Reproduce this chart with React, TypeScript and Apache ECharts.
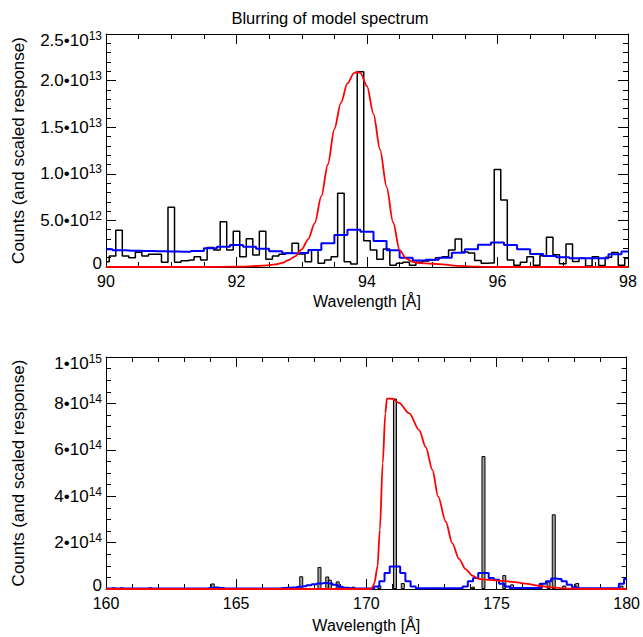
import React, { useEffect, useRef } from "react";
import * as echarts from "echarts";

const FONT = "'Liberation Sans', Arial, Helvetica, sans-serif";
const TITLE = "Blurring of model spectrum";
const X_NAME = "Wavelength [Å]";
const Y_NAME = "Counts (and scaled response)";

// ---------- top panel (counts in units of 1e12) ----------
const TOP_X_MIN = 90;
const TOP_X_MAX = 98;
const TOP_X_LABELS = ["90", "92", "94", "96", "98"];
const TOP_Y_MAX = 25;
const TOP_Y_LABELS = ["0", "5.0•10^12", "1.0•10^13", "1.5•10^13", "2.0•10^13", "2.5•10^13"];

// black histogram: bins of 0.1 Å centred on 90.0 … 98.0
const TOP_BLACK_START = 90.0;
const TOP_BLACK_STEP = 0.1;
const TOP_BLACK = [
  0.57, 1.18, 3.94, 1.18, 1.0, 1.57, 1.18, 1.36, 1.36, 0.5,
  6.4, 0.5, 0.68, 0.75, 1.1, 0.75, 2.1, 1.82, 4.86, 1.82,
  3.83, 1.1, 3.04, 1.29, 3.83, 0.82, 1.18, 1.36, 1.5, 2.54,
  1.39, 0.57, 1.82, 0.4, 0.75, 1.1, 7.9, 0.57, 0.32, 20.95,
  2.82, 1.82, 0.82, 1.93, 0.2, 0.39, 0.5, 0.2, 0.5, 0.64,
  0.75, 1.0, 1.1, 1.82, 3.0, 1.6, 1.5, 0.7, 0.4, 0.42,
  10.45, 7.19, 0.75, 0.2, 0.5, 1.1, 0.2, 1.2, 3.18, 1.32,
  0.35, 2.47, 0.6, 0.95, 0.1, 1.1, 0.15, 1.05, 1.55, 0.2,
  0.95,
];

// blue histogram: bins of 0.2 Å centred on 90.0 … 98.0
const TOP_BLUE_START = 90.0;
const TOP_BLUE_STEP = 0.2;
const TOP_BLUE = [
  1.9, 1.8, 1.75, 1.72, 1.7, 1.66, 1.64, 1.72, 2.0, 2.18,
  2.36, 2.18, 1.97, 1.68, 1.47, 1.5, 1.82, 2.54, 3.43, 4.0,
  3.79, 2.8, 1.8, 1.0, 0.7, 0.78, 1.0, 1.52, 1.9, 2.38,
  2.64, 2.36, 1.9, 1.39, 1.18, 1.05, 0.95, 0.95, 0.95, 1.38,
  1.66,
];

// red model curve
const TOP_RED_X = [
  90.0, 91.5, 92.0, 92.2, 92.4, 92.6, 92.7, 92.8, 92.9, 93.0,
  93.1, 93.2, 93.3, 93.4, 93.5, 93.6, 93.7, 93.8, 93.85, 93.9,
  94.0, 94.1, 94.2, 94.3, 94.4, 94.5, 94.6, 94.7, 94.8, 95.0,
  95.2, 95.4, 95.6, 95.8, 96.0, 98.0,
];
const TOP_RED_Y = [
  0, 0, 0.03, 0.07, 0.14, 0.28, 0.45, 0.75, 1.15, 1.9,
  3.0, 4.7, 7.6, 11.0, 14.8, 17.6, 19.7, 20.8, 20.95, 20.8,
  19.4, 16.4, 12.6, 8.6, 4.8, 1.8, 0.9, 0.55, 0.42, 0.35,
  0.25, 0.12, 0.05, 0.02, 0, 0,
];

// ---------- bottom panel (counts in units of 1e14) ----------
const BOT_X_MIN = 160;
const BOT_X_MAX = 180;
const BOT_X_LABELS = ["160", "165", "170", "175", "180"];
const BOT_Y_MAX = 10;
const BOT_Y_LABELS = ["0", "2•10^14", "4•10^14", "6•10^14", "8•10^14", "1•10^15"];

const BOT_BLACK_X = [
  160.3, 160.6, 161.7, 164.1, 167.5, 168.2, 168.5, 168.6, 168.9, 169.5,
  170.5, 171.1, 171.4, 172.8, 173.0, 174.1, 174.5, 175.3, 175.6, 176.7,
  177.0, 177.2, 177.6, 178.1, 179.8,
];
const BOT_BLACK_Y = [
  0.07, 0.07, 0.07, 0.24, 0.55, 0.95, 0.54, 0.4, 0.33, 0.1,
  0.15, 8.21, 0.26, 0.05, 0.05, 0.1, 5.73, 0.6, 0.2, 0.26,
  0.33, 3.22, 0.15, 0.26, 0.15,
];

const BOT_BLUE_X = [
  160.0, 163.8, 164.0, 164.2, 164.4, 164.6, 166.6, 166.8, 167.0, 167.2,
  167.4, 167.6, 167.8, 168.0, 168.2, 168.4, 168.6, 168.8, 169.0, 169.2,
  169.4, 169.6, 170.2, 170.4, 170.6, 170.8, 171.0, 171.2, 171.4, 171.6,
  171.8, 172.0, 173.6, 173.8, 174.0, 174.2, 174.4, 174.6, 174.8, 175.0,
  175.2, 175.4, 175.6, 176.6, 176.8, 177.0, 177.2, 177.4, 177.6, 177.8,
  178.0, 178.2, 179.6, 179.8, 180.0,
];
const BOT_BLUE_Y = [
  0.02, 0.02, 0.04, 0.06, 0.04, 0.02, 0.02, 0.04, 0.05, 0.07,
  0.1, 0.12, 0.16, 0.2, 0.24, 0.26, 0.24, 0.18, 0.1, 0.05,
  0.03, 0.02, 0.02, 0.11, 0.33, 0.69, 0.97, 0.97, 0.69, 0.33,
  0.11, 0.03, 0.03, 0.11, 0.33, 0.47, 0.69, 0.69, 0.47, 0.4,
  0.23, 0.11, 0.04, 0.04, 0.23, 0.33, 0.45, 0.43, 0.33, 0.18,
  0.08, 0.03, 0.03, 0.23, 0.43,
];

const BOT_RED_X = [
  160.0, 170.0, 170.18, 170.25, 170.31, 170.43, 170.52, 170.63, 170.73, 170.79,
  171.0, 171.26, 171.65, 172.03, 172.28, 172.54, 172.76, 173.05, 173.3, 173.56,
  173.81, 174.07, 174.32, 174.58, 175.09, 175.6, 176.11, 176.62, 177.13, 177.64,
  178.66, 180.0,
];
const BOT_RED_Y = [
  0, 0, 0, 0.1, 0.26, 0.97, 2.55, 5.42, 7.57, 8.21,
  8.2, 8.02, 7.57, 6.85, 6.13, 5.13, 3.98, 2.91, 1.98, 1.3,
  0.86, 0.58, 0.44, 0.4, 0.36, 0.31, 0.23, 0.14, 0.07, 0.02,
  0, 0,
];

const BLACK = "#000000";
const BLUE = "#0000ff";
const RED = "#ff0000";

function binned(start: number, step: number, vals: number[]) {
  return vals.map((v, i) => [Math.round((start + i * step) * 1000) / 1000, v]);
}
function zipXY(xs: number[], ys: number[]) {
  return xs.map((x, i) => [x, ys[i]]);
}

const rich = {
  a: { fontSize: 17, fontFamily: FONT, color: BLACK, lineHeight: 19 },
  s: { fontSize: 12, fontFamily: FONT, color: BLACK, lineHeight: 12, padding: [0, 0, 9, 0] },
  aT: { fontSize: 17, fontFamily: FONT, color: BLACK, lineHeight: 19, padding: [12, 0, 0, 0] },
  sT: { fontSize: 12, fontFamily: FONT, color: BLACK, lineHeight: 12, padding: [12, 0, 9, 0] },
  z: { fontSize: 17, fontFamily: FONT, color: BLACK, lineHeight: 19, padding: [0, 0, 8, 0] },
};

function yLabel(labels: string[], step: number) {
  return (v: number) => {
    const i = Math.round(v / step);
    const s = labels[i];
    if (s === undefined) return "";
    const last = i === labels.length - 1;
    if (s.indexOf("^") >= 0) {
      const [m, e] = s.split("^");
      return last ? `{aT|${m}}{sT|${e}}` : `{a|${m}}{s|${e}}`;
    }
    return i === 0 ? `{z|${s}}` : `{a|${s}}`;
  };
}
function xLabel(labels: string[], min: number, step: number) {
  return (v: number) => {
    const i = Math.round((v - min) / step);
    return labels[i] ?? "";
  };
}

const axisLineStyle = { color: BLACK, width: 1 };

function makeXAxes(grid: number, min: number, max: number, interval: number, minorSplit: number, labels: string[], margin: number, nameGap: number) {
  const common = {
    type: "value",
    gridIndex: grid,
    min,
    max,
    interval,
    axisLine: { show: true, onZero: false, lineStyle: axisLineStyle },
    axisTick: { show: true, inside: true, length: 10, lineStyle: axisLineStyle },
    minorTick: { show: true, splitNumber: minorSplit, length: 5, lineStyle: axisLineStyle },
    splitLine: { show: false },
    minorSplitLine: { show: false },
  };
  return [
    {
      ...common,
      position: "bottom",
      axisLabel: {
        show: true,
        margin,
        fontSize: 16,
        fontFamily: FONT,
        color: BLACK,
        showMinLabel: true,
        showMaxLabel: true,
        formatter: xLabel(labels, min, interval),
      },
      name: X_NAME,
      nameLocation: "middle",
      nameGap,
      nameTextStyle: { fontSize: 16, fontFamily: FONT, color: BLACK },
    },
    { ...common, position: "top", axisLabel: { show: false } },
  ];
}

function makeYAxes(grid: number, max: number, interval: number, minorSplit: number, labels: string[]) {
  const common = {
    type: "value",
    gridIndex: grid,
    min: 0,
    max,
    interval,
    axisLine: { show: true, onZero: false, lineStyle: axisLineStyle },
    axisTick: { show: true, inside: true, length: 10, lineStyle: axisLineStyle },
    minorTick: { show: true, splitNumber: minorSplit, length: 5, lineStyle: axisLineStyle },
    splitLine: { show: false },
    minorSplitLine: { show: false },
  };
  return [
    {
      ...common,
      position: "left",
      axisLabel: {
        show: true,
        margin: 4,
        showMinLabel: true,
        showMaxLabel: true,
        formatter: yLabel(labels, interval),
        rich,
      },
      name: Y_NAME,
      nameLocation: "middle",
      nameGap: 79,
      nameTextStyle: { fontSize: 17, fontFamily: FONT, color: BLACK },
    },
    { ...common, position: "right", axisLabel: { show: false } },
  ];
}

function stepLine(name: string, data: number[][], color: string, width: number, xi: number, yi: number) {
  return {
    name,
    type: "line",
    step: "middle",
    xAxisIndex: xi,
    yAxisIndex: yi,
    data,
    showSymbol: false,
    symbol: "none",
    lineStyle: { color, width },
    clip: true,
  };
}

export default function App() {
  const ref = useRef<HTMLDivElement>(null);
  useEffect(() => {
    if (!ref.current) return;
    const chart = echarts.init(ref.current, null, { renderer: "svg" });
    const option = {
      animation: false,
      backgroundColor: "#ffffff",
      textStyle: { fontFamily: FONT },
      graphic: [
        {
          type: "text",
          x: 330,
          y: 9,
          style: {
            text: TITLE,
            fontSize: 16.5,
            fontFamily: FONT,
            fill: BLACK,
            textAlign: "center",
            textVerticalAlign: "top",
          },
        },
      ],
      grid: [
        { left: 106, top: 34, width: 522, height: 233, containLabel: false },
        { left: 106, top: 357, width: 522, height: 232, containLabel: false },
      ],
      xAxis: [
        ...makeXAxes(0, TOP_X_MIN, TOP_X_MAX, 2, 4, TOP_X_LABELS, 6, 26),
        ...makeXAxes(1, BOT_X_MIN, BOT_X_MAX, 5, 5, BOT_X_LABELS, 6, 28),
      ],
      yAxis: [
        ...makeYAxes(0, TOP_Y_MAX, 5, 5, TOP_Y_LABELS),
        ...makeYAxes(1, BOT_Y_MAX, 2, 4, BOT_Y_LABELS),
      ],
      series: [
        stepLine("top counts", binned(TOP_BLACK_START, TOP_BLACK_STEP, TOP_BLACK), BLACK, 1.5, 0, 0),
        stepLine("top blurred", binned(TOP_BLUE_START, TOP_BLUE_STEP, TOP_BLUE), BLUE, 2, 0, 0),
        {
          name: "top response",
          type: "line",
          xAxisIndex: 0,
          yAxisIndex: 0,
          data: zipXY(TOP_RED_X, TOP_RED_Y),
          smooth: 0.3,
          smoothMonotone: "x",
          showSymbol: false,
          symbol: "none",
          lineStyle: { color: RED, width: 1.8 },
        },
        {
          name: "bottom counts",
          type: "bar",
          xAxisIndex: 2,
          yAxisIndex: 2,
          data: zipXY(BOT_BLACK_X, BOT_BLACK_Y),
          barWidth: 4,
          itemStyle: { color: "#a0a0a0", borderColor: BLACK, borderWidth: 1 },
        },
        stepLine("bottom blurred", zipXY(BOT_BLUE_X, BOT_BLUE_Y), BLUE, 2, 2, 2),
        {
          name: "bottom response",
          type: "line",
          xAxisIndex: 2,
          yAxisIndex: 2,
          data: zipXY(BOT_RED_X, BOT_RED_Y),
          smooth: 0.3,
          smoothMonotone: "x",
          showSymbol: false,
          symbol: "none",
          lineStyle: { color: RED, width: 1.8 },
        },
      ],
    };
    chart.setOption(option as any);
    return () => chart.dispose();
  }, []);
  return (
    <div
      ref={ref}
      style={{ position: "absolute", left: 0, top: 0, width: 643, height: 637, background: "#fff" }}
    />
  );
}
